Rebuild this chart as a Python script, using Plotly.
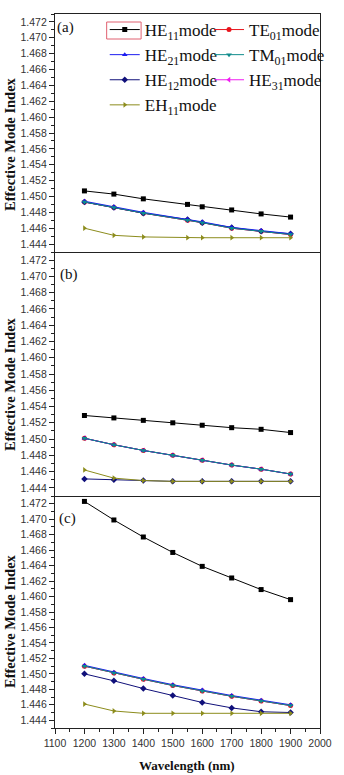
import plotly.graph_objects as go
from plotly.subplots import make_subplots

# ---------------- data ----------------
wavelength_a = [1200, 1300, 1400, 1550, 1600, 1700, 1800, 1900]
wavelength = [1200, 1300, 1400, 1500, 1600, 1700, 1800, 1900]

mode_names = ["HE<sub>11</sub>mode", "TE<sub>01</sub>mode", "HE<sub>21</sub>mode",
              "TM<sub>01</sub>mode", "HE<sub>12</sub>mode", "HE<sub>31</sub>mode",
              "EH<sub>11</sub>mode"]

# panel (a)
HE11_a = [1.4507, 1.4503, 1.4497, 1.4490, 1.4487, 1.4483, 1.4478, 1.4474]
TE01_a = [1.4493, 1.4486, 1.4479, 1.4470, 1.4467, 1.4460, 1.4456, 1.4452]
HE21_a = [1.4494, 1.4487, 1.4480, 1.4471, 1.4468, 1.4461, 1.4457, 1.4453]
TM01_a = [1.4493, 1.4486, 1.4479, 1.4470, 1.4467, 1.4460, 1.4456, 1.4452]
HE12_a = [1.4493, 1.4486, 1.4479, 1.4471, 1.4467, 1.4461, 1.4456, 1.4453]
HE31_a = [1.4493, 1.4486, 1.4479, 1.4470, 1.4467, 1.4460, 1.4456, 1.4452]
EH11_a = [1.4460, 1.4451, 1.4449, 1.4448, 1.4448, 1.4448, 1.4448, 1.4448]

# panel (b)
HE11_b = [1.4529, 1.4526, 1.4523, 1.4520, 1.4517, 1.4514, 1.4512, 1.4508]
TE01_b = [1.4501, 1.4493, 1.4486, 1.4480, 1.4474, 1.4468, 1.4463, 1.4457]
HE21_b = [1.4501, 1.4493, 1.4486, 1.4480, 1.4474, 1.4468, 1.4463, 1.4457]
TM01_b = [1.4501, 1.4493, 1.4486, 1.4480, 1.4474, 1.4468, 1.4463, 1.4457]
HE12_b = [1.4451, 1.4450, 1.4449, 1.4448, 1.4448, 1.4448, 1.4448, 1.4448]
HE31_b = [1.4501, 1.4493, 1.4486, 1.4480, 1.4474, 1.4468, 1.4463, 1.4457]
EH11_b = [1.4462, 1.4452, 1.4449, 1.4448, 1.4448, 1.4448, 1.4448, 1.4448]

# panel (c)
HE11_c = [1.4723, 1.4699, 1.4677, 1.4657, 1.4639, 1.4624, 1.4609, 1.4596]
TE01_c = [1.4510, 1.4501, 1.4493, 1.4485, 1.4478, 1.4471, 1.4465, 1.4459]
HE21_c = [1.4511, 1.4502, 1.4494, 1.4486, 1.4479, 1.4472, 1.4466, 1.4460]
TM01_c = [1.4510, 1.4501, 1.4493, 1.4485, 1.4478, 1.4471, 1.4465, 1.4459]
HE12_c = [1.4500, 1.4491, 1.4481, 1.4472, 1.4463, 1.4456, 1.4451, 1.4450]
HE31_c = [1.4510, 1.4501, 1.4493, 1.4485, 1.4478, 1.4471, 1.4465, 1.4459]
EH11_c = [1.4461, 1.4452, 1.4449, 1.4449, 1.4449, 1.4449, 1.4449, 1.4449]

panel_labels = ["(a)", "(b)", "(c)"]
x_ticks = [1100, 1200, 1300, 1400, 1500, 1600, 1700, 1800, 1900, 2000]
y_ticks = [1.444, 1.446, 1.448, 1.450, 1.452, 1.454, 1.456, 1.458, 1.460,
           1.462, 1.464, 1.466, 1.468, 1.470, 1.472]

# ---------------- style ----------------
colors = ["#000000", "#e8141c", "#1c1cf0", "#108c8c", "#10107a", "#f01cf0", "#8c8c1c"]
symbols = ["square", "circle", "triangle-up", "triangle-down", "diamond",
           "triangle-left", "triangle-right"]
legend_column = ["legend", "legend2", "legend", "legend2", "legend", "legend2", "legend"]
draw_order = [0, 5, 1, 4, 2, 3, 6]   # paint order (legend order kept by legendrank)
SERIF = "Liberation Serif, Times New Roman, serif"
SANS = "Liberation Sans, Arial, sans-serif"

panels = [
    (wavelength_a, [HE11_a, TE01_a, HE21_a, TM01_a, HE12_a, HE31_a, EH11_a]),
    (wavelength, [HE11_b, TE01_b, HE21_b, TM01_b, HE12_b, HE31_b, EH11_b]),
    (wavelength, [HE11_c, TE01_c, HE21_c, TM01_c, HE12_c, HE31_c, EH11_c]),
]

fig = make_subplots(rows=3, cols=1, shared_xaxes=True, vertical_spacing=0)

for r, (xs, series) in enumerate(panels, start=1):
    for i in draw_order:
        ys = series[i]
        fig.add_trace(go.Scatter(
            x=xs, y=ys, mode="lines+markers", name=mode_names[i],
            line=dict(color=colors[i], width=1),
            marker=dict(symbol=symbols[i], size=5, color=colors[i]),
            showlegend=(r == 1), legendrank=i + 1, legend=legend_column[i],
        ), row=r, col=1)

# plot area in pixels: left 55, right 332, top 14, bottom 728
H_TOTAL = 775
TOP, BOT = 14, 728
ph = BOT - TOP
def fy(px):
    return (BOT - px) / ph

def fx(px):
    return (px - 55) / 277

domains = [(fy(252), 1.0), (fy(496), fy(252)), (0.0, fy(496))]

LINE = dict(showline=True, linecolor="#222", linewidth=1.3,
            showgrid=False, zeroline=False)
for r in range(1, 4):
    yname = "yaxis" if r == 1 else f"yaxis{r}"
    xname = "xaxis" if r == 1 else f"xaxis{r}"
    fig.layout[yname].update(
        domain=list(domains[r - 1]), range=[1.443, 1.473], mirror=True,
        tickmode="array", tickvals=y_ticks, tickformat=".3f",
        ticks="outside", ticklen=5, tickwidth=1, tickcolor="#222",
        minor=dict(dtick=0.001, tick0=1.443, ticks="outside", ticklen=3,
                   tickcolor="#222", tickwidth=1),
        tickfont=dict(family=SANS, size=10.5, color="#333"),
        **LINE,
    )
    if r < 3:
        fig.layout[xname].update(range=[1100, 2000], showticklabels=False,
                                 ticks="", mirror=(r == 1), **LINE)
    else:
        fig.layout[xname].update(
            range=[1100, 2000], tickmode="array", tickvals=x_ticks, tickangle=0,
            ticks="outside", ticklen=5, tickwidth=1, tickcolor="#222",
            minor=dict(dtick=50, tick0=1100, ticks="outside", ticklen=3,
                       tickcolor="#222", tickwidth=1),
            tickfont=dict(family=SANS, size=10.5, color="#333"),
            mirror=False, **LINE,
        )

annotations = []
# y titles
for cy in [144, 384, 621]:
    annotations.append(dict(
        text="Effective Mode Index", xref="paper", yref="paper",
        x=fx(8), y=fy(cy), xanchor="center", yanchor="middle",
        textangle=-90, showarrow=False,
        font=dict(family=SERIF, size=14.5, color="#111", weight="bold"),
    ))
# panel labels
for lab, (px, py) in zip(panel_labels, [(66, 27), (70, 274), (68, 518)]):
    annotations.append(dict(
        text=lab, xref="paper", yref="paper",
        x=fx(px), y=fy(py), xanchor="center", yanchor="middle",
        showarrow=False, font=dict(family=SERIF, size=15, color="#111"),
    ))
# x title
annotations.append(dict(
    text="Wavelength (nm)", xref="paper", yref="paper",
    x=fx(193), y=fy(765), xanchor="center", yanchor="middle",
    showarrow=False, font=dict(family=SERIF, size=13, color="#111", weight="bold"),
))

legend_style = dict(
    orientation="v", y=fy(12), xanchor="left", yanchor="top",
    itemwidth=30, font=dict(family=SERIF, size=17, color="#111"),
    bgcolor="rgba(0,0,0,0)", borderwidth=0,
)

fig.update_layout(
    width=344, height=775,
    margin=dict(l=55, r=12, t=TOP, b=H_TOTAL - BOT),
    paper_bgcolor="white", plot_bgcolor="white",
    annotations=annotations,
    legend=dict(x=fx(107), **legend_style),
    legend2=dict(x=fx(216), **legend_style),
    shapes=[dict(type="rect", xref="paper", yref="paper",
                 x0=fx(109), x1=fx(145), y0=fy(39), y1=fy(22),
                 line=dict(color="#e06070", width=1))],
)

fig.write_html("out.html")
